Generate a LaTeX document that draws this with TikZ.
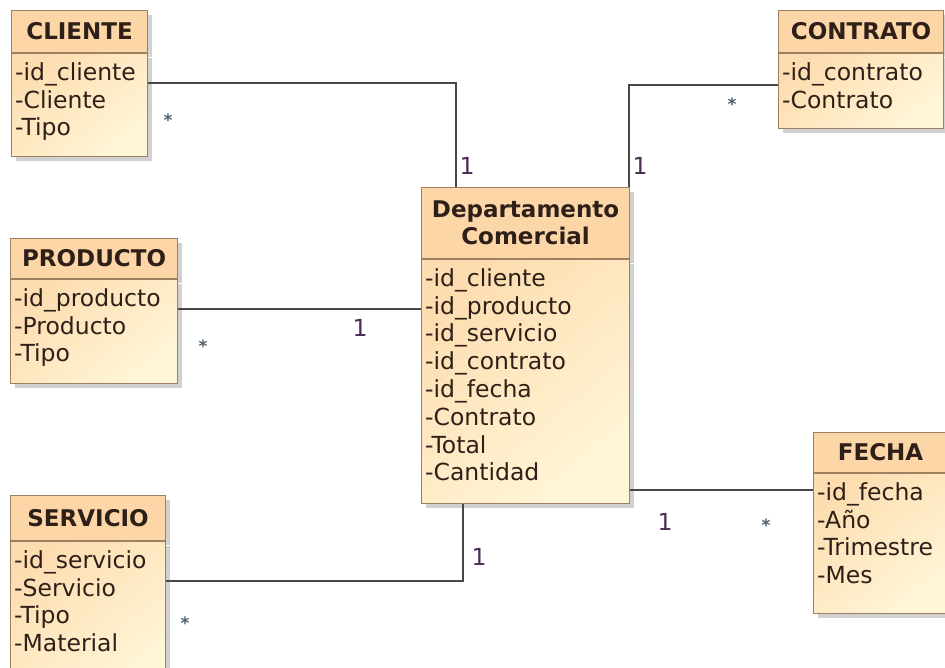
\documentclass[tikz,border=0pt]{standalone}
\usepackage{fontspec}
\setmainfont{DejaVu Sans}
\usetikzlibrary{positioning,shadows}
\definecolor{headcolor}{HTML}{FDD6A8}
\definecolor{bodytop}{HTML}{FDDDB0}
\definecolor{bodybottom}{HTML}{FFF6D8}
\definecolor{edgecolor}{HTML}{9E8060}
\definecolor{linkcolor}{HTML}{474747}
\definecolor{textcolor}{HTML}{2E2018}
\definecolor{multcolor}{HTML}{4C2C55}
\definecolor{starcolor}{HTML}{4E5E6C}
\newcommand{\itemfont}{\fontsize{23.5}{27.8}\selectfont}
\newcommand{\headfont}{\fontsize{23}{27}\selectfont\bfseries}
\newcommand{\starfont}{\fontsize{17}{17}\selectfont\bfseries}

\begin{document}
\begin{tikzpicture}[x=1pt,y=-1pt,
 cab/.style={draw=edgecolor,line width=1.2pt,fill=headcolor,anchor=north west,
             inner sep=0pt,align=center,font=\headfont,text=textcolor},
 cuerpo/.style={draw=edgecolor,line width=1.2pt,top color=bodytop,
                bottom color=bodybottom,shading angle=40,inner sep=0pt},
 sombra/.style={drop shadow={shadow xshift=4pt,shadow yshift=-4pt,
                fill=black!40,opacity=.45}},
 attrs/.style={inner sep=0pt,align=left,font=\itemfont,text=textcolor},
 link/.style={draw=linkcolor,line width=1.6pt},
 uno/.style={font=\itemfont,text=multcolor},
 muchos/.style={font=\starfont,text=starcolor}]
 \useasboundingbox (0,0) rectangle (945,667);
 % clases
 \node[cab,sombra,minimum width=136pt,minimum height=42pt] (clienteh) at (11,10) {CLIENTE};
 \node[cuerpo,sombra,minimum width=136pt,minimum height=103pt,below=0pt of clienteh] (clienteb) {};
 \node[attrs,below right=9pt and 4pt of clienteh.south west] (clientea)
   {-id\_cliente\\-Cliente\\-Tipo};

 \node[cab,sombra,minimum width=165pt,minimum height=42pt] (contratoh) at (778,10) {CONTRATO};
 \node[cuerpo,sombra,minimum width=165pt,minimum height=75pt,below=0pt of contratoh] (contratob) {};
 \node[attrs,below right=9pt and 4pt of contratoh.south west] (contratoa)
   {-id\_contrato\\-Contrato};

 \node[cab,sombra,minimum width=167pt,minimum height=40pt] (productoh) at (10,238) {PRODUCTO};
 \node[cuerpo,sombra,minimum width=167pt,minimum height=104pt,below=0pt of productoh] (productob) {};
 \node[attrs,below right=9pt and 4pt of productoh.south west] (productoa)
   {-id\_producto\\-Producto\\-Tipo};

 \node[cab,sombra,minimum width=155pt,minimum height=45pt] (servicioh) at (10,495) {SERVICIO};
 \node[cuerpo,sombra,minimum width=155pt,minimum height=150pt,below=0pt of servicioh] (serviciob) {};
 \node[attrs,below right=9pt and 4pt of servicioh.south west] (servicioa)
   {-id\_servicio\\-Servicio\\-Tipo\\-Material};

 \node[cab,sombra,minimum width=208pt,minimum height=71pt] (depth) at (421,187)
   {Departamento\\Comercial};
 \node[cuerpo,sombra,minimum width=208pt,minimum height=244pt,below=0pt of depth] (deptb) {};
 \node[attrs,below right=9pt and 4pt of depth.south west] (depta)
   {-id\_cliente\\-id\_producto\\-id\_servicio\\-id\_contrato\\-id\_fecha\\
    -Contrato\\-Total\\-Cantidad};

 \node[cab,sombra,minimum width=134pt,minimum height=40pt] (fechah) at (813,432) {FECHA};
 \node[cuerpo,sombra,minimum width=134pt,minimum height=140pt,below=0pt of fechah] (fechab) {};
 \node[attrs,below right=9pt and 4pt of fechah.south west] (fechaa)
   {-id\_fecha\\-Año\\-Trimestre\\-Mes};

 % asociaciones
 \coordinate (cli) at ([yshift=-30pt]clienteb.north east);
 \draw[link] (cli) -| ([xshift=35pt]depth.north west);
 \coordinate (con) at ([yshift=-32pt]contratob.north west);
 \draw[link] (con) -| ([xshift=-1.5pt]depth.north east);
 \coordinate (pro) at ([yshift=-30pt]productob.north east);
 \draw[link] (pro) -- (pro -| deptb.west);
 \coordinate (ser) at ([yshift=-40pt]serviciob.north east);
 \draw[link] (ser) -| ([xshift=42pt]deptb.south west);
 \coordinate (fec) at ([yshift=-17pt]fechab.north west);
 \draw[link] (fec) -- (fec -| deptb.east);

 % multiplicidades
 \node[muchos] (mcli) at (168,120) {*};
 \node[uno] (ucli) at (467,166) {1};
 \node[muchos] (mcon) at (732,104) {*};
 \node[uno] (ucon) at (640,166) {1};
 \node[muchos] (mpro) at (203,346) {*};
 \node[uno] (upro) at (360,328) {1};
 \node[muchos] (mser) at (185,623) {*};
 \node[uno] (user) at (479,557) {1};
 \node[uno] (ufec) at (665,522) {1};
 \node[muchos] (mfec) at (766,525) {*};
\end{tikzpicture}
\end{document}
